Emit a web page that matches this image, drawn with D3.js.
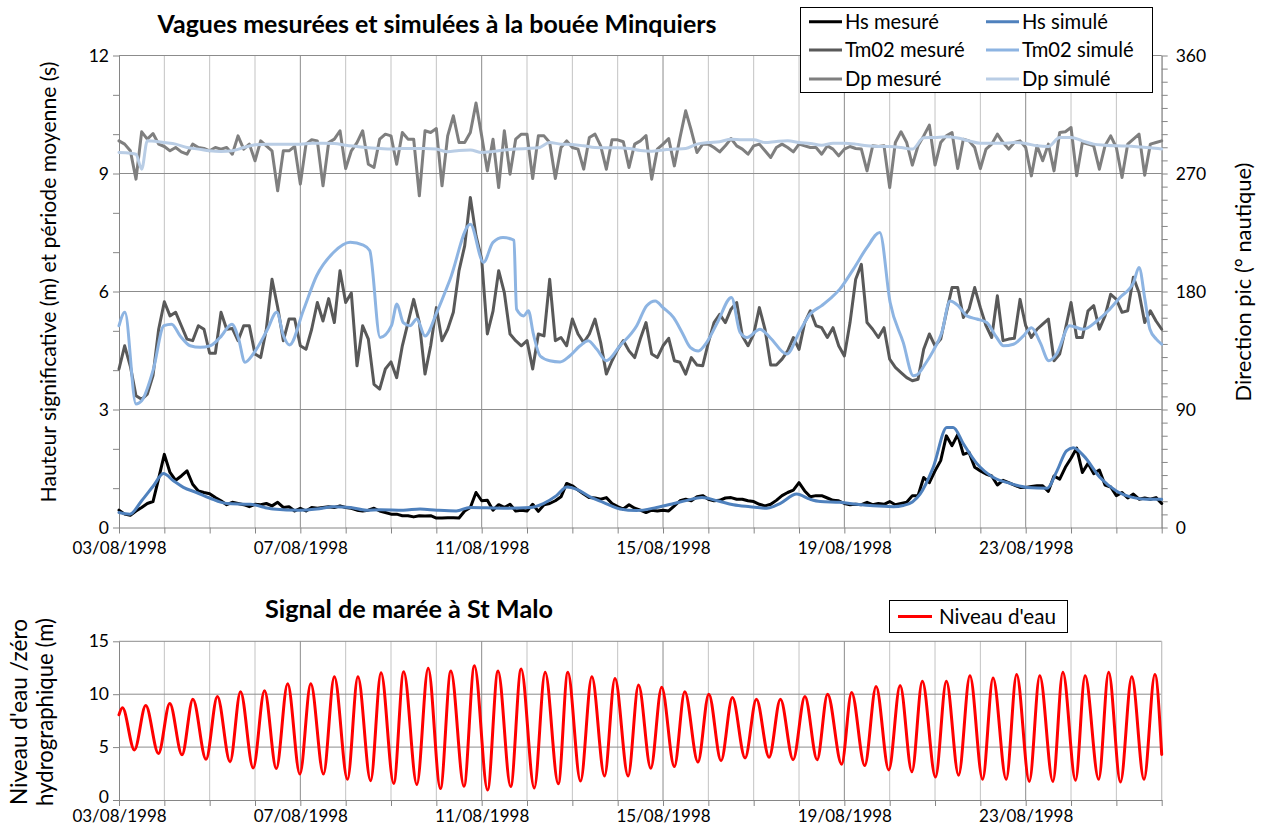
<!DOCTYPE html>
<html><head><meta charset="utf-8">
<script src="https://cdn.jsdelivr.net/npm/d3@7"></script>
<style>
body{margin:0;background:#fff;}
svg{display:block;font-family:Lato,"Open Sans",sans-serif;}
</style></head><body>
<svg id="chart" width="1269" height="827"></svg>
<script>
// ---------------- DATA ----------------
const startDay = Date.UTC(1998,7,3);
const endDay = Date.UTC(1998,7,26);
const dateLabels = ["03/08/1998","07/08/1998","11/08/1998","15/08/1998","19/08/1998","23/08/1998"];
const leftTicks = [0,3,6,9,12];
const rightTicks = [0,90,180,270,360];
const tideTicks = [0,5,10,15];
const stepHours = 3; // measured series: one value every 3 h

const hsMesure = [
0.44,0.34,0.31,0.42,0.51,0.61,0.66,1.25,1.86,1.40,
1.20,1.31,1.44,1.10,0.93,0.89,0.86,0.76,0.68,0.58,
0.64,0.61,0.58,0.53,0.59,0.58,0.61,0.55,0.64,0.51,
0.53,0.42,0.49,0.42,0.51,0.49,0.51,0.53,0.51,0.55,
0.51,0.49,0.44,0.42,0.44,0.49,0.42,0.38,0.34,0.34,
0.30,0.30,0.27,0.30,0.29,0.30,0.24,0.24,0.25,0.25,
0.24,0.42,0.51,0.89,0.68,0.69,0.44,0.58,0.51,0.59,
0.42,0.44,0.42,0.59,0.41,0.58,0.61,0.68,0.78,1.12,
1.06,0.95,0.85,0.76,0.75,0.72,0.76,0.61,0.53,0.47,
0.58,0.49,0.44,0.38,0.44,0.42,0.44,0.42,0.55,0.68,
0.72,0.68,0.78,0.81,0.72,0.68,0.69,0.75,0.76,0.72,
0.72,0.68,0.66,0.59,0.55,0.59,0.69,0.81,0.89,0.95,
1.14,0.93,0.78,0.81,0.81,0.75,0.69,0.68,0.61,0.58,
0.59,0.58,0.64,0.58,0.61,0.59,0.66,0.58,0.61,0.64,
0.81,0.81,1.27,1.14,1.44,1.70,2.33,2.08,2.36,1.86,
1.91,1.53,1.44,1.36,1.31,1.08,1.20,1.14,1.08,1.02,
1.02,1.04,1.06,1.06,0.92,1.31,1.23,1.53,1.76,2.02,
1.40,1.63,1.37,1.46,1.08,1.03,0.81,0.89,0.75,0.85,
0.72,0.75,0.72,0.76,0.61];

const tm02Mesure = [
4.03,4.62,4.10,3.35,3.26,3.39,3.86,5.04,5.74,5.38,
5.47,5.13,4.79,4.75,5.13,5.04,4.43,4.43,5.47,5.04,
5.06,4.75,5.13,5.13,4.41,4.32,5.04,6.31,5.60,4.75,
5.30,5.30,4.62,4.53,5.04,5.72,5.25,5.82,5.21,6.53,
5.72,5.96,4.11,5.13,4.79,3.64,3.52,4.03,4.21,3.81,
4.62,5.21,5.80,5.21,3.90,4.62,5.59,4.75,5.04,5.47,
6.53,7.16,8.39,7.42,6.82,4.92,5.50,6.53,5.97,4.92,
4.75,4.62,4.75,4.03,4.92,4.87,6.31,4.75,4.83,4.62,
5.30,4.92,4.70,4.92,5.30,4.70,3.90,4.24,4.53,4.75,
4.49,4.32,4.80,5.21,4.41,4.32,4.62,4.81,4.24,4.20,
3.90,4.32,4.13,4.11,4.70,5.21,5.42,5.21,5.55,5.72,
4.87,4.62,4.92,5.59,5.04,4.13,4.13,4.28,4.49,4.83,
4.53,5.21,5.51,5.13,5.08,4.83,5.08,4.62,4.36,5.21,
6.31,6.69,5.21,5.04,4.83,5.08,4.28,4.07,3.94,3.81,
3.73,3.77,4.53,4.92,4.62,4.79,5.47,6.10,6.10,5.34,
5.55,6.10,5.59,5.13,4.83,5.89,4.75,4.79,4.81,5.80,
5.13,4.83,5.04,5.17,5.30,4.24,4.41,5.04,5.72,4.83,
4.83,5.51,5.64,5.04,5.38,5.93,5.80,5.47,5.51,6.36,
5.97,5.21,5.51,5.25,5.04];

const dpMesure = [
294.9,292.4,287.3,265.7,301.8,296.2,300.5,292.4,290.6,287.3,
289.8,286.5,284.7,292.4,289.8,289.1,287.3,289.8,288.6,289.8,
284.7,298.7,288.6,292.4,279.7,294.9,291.1,287.3,256.8,287.3,
287.3,290.6,261.9,292.4,295.7,294.9,260.6,293.6,296.2,302.6,
273.8,287.3,293.6,302.6,277.1,274.6,296.2,300.0,298.7,277.1,
301.3,296.2,296.2,253.0,302.6,301.3,304.3,260.6,298.7,314.0,
293.6,293.6,301.3,323.7,298.7,272.0,296.2,259.3,302.6,269.5,
296.2,300.0,300.0,266.2,298.7,298.7,293.6,266.2,289.8,294.9,
289.8,288.6,273.3,297.5,300.0,291.1,273.3,295.7,295.7,294.2,
274.6,292.4,294.9,299.0,265.7,288.6,292.4,296.7,275.8,297.5,
317.8,302.6,286.0,292.4,292.4,289.8,286.5,291.1,296.7,291.1,
288.6,284.7,291.1,292.4,287.3,282.2,289.8,292.4,289.8,286.5,
292.4,291.1,289.8,289.8,284.7,291.1,288.6,283.5,288.6,290.6,
289.1,288.6,272.0,291.1,290.6,291.1,259.3,293.6,301.8,293.6,
276.4,291.1,298.7,306.9,276.4,293.6,298.7,301.3,273.8,296.2,
294.9,289.8,273.8,288.6,292.4,300.0,293.6,288.6,293.6,294.9,
289.8,268.2,291.1,279.7,292.4,272.0,301.3,301.8,305.1,268.2,
293.6,292.4,291.1,273.3,291.1,298.7,289.8,266.9,292.4,296.2,
300.0,268.7,292.4,293.6,294.9];

// simulated series: [day offset from 03/08 00:00, value]
const hsSimule = [
[0,0.38],[0.24,0.34],[0.5,0.68],[0.76,1.06],[0.98,1.37],[1.2,1.19],[1.42,1.02],[1.71,0.89],[2.0,0.75],[2.38,0.61],
[2.89,0.59],[3.4,0.47],[3.99,0.44],[4.36,0.47],[4.73,0.53],[5.1,0.51],[5.46,0.44],[5.76,0.45],[6.27,0.44],[6.64,0.47],
[7.01,0.44],[7.44,0.42],[7.74,0.51],[8.48,0.49],[9.07,0.51],[9.36,0.61],[9.65,0.81],[9.88,1.03],[10.1,0.97],[10.39,0.78],
[10.68,0.64],[11.05,0.47],[11.42,0.43],[11.86,0.51],[12.24,0.61],[12.53,0.69],[12.86,0.76],[13.2,0.68],[13.55,0.58],[13.92,0.53],
[14.29,0.49],[14.58,0.61],[14.95,0.85],[15.24,0.72],[15.47,0.66],[15.91,0.64],[16.27,0.59],[16.64,0.55],[17.08,0.53],[17.3,0.56],
[17.5,0.65],[17.67,0.85],[17.96,1.53],[18.26,2.54],[18.4,2.54],[18.63,2.12],[18.92,1.63],[19.29,1.27],[19.66,1.12],[20.03,1.02],
[20.47,1.0],[20.69,1.44],[20.9,1.95],[21.05,2.03],[21.28,1.82],[21.64,1.27],[22.0,0.93],[22.38,0.76],[22.67,0.72],[23,0.72]];

const tm02Simule = [
[0,5.13],[0.13,5.47],[0.375,3.14],[0.5,3.22],[0.76,4.03],[0.99,5.13],[1.16,5.17],[1.35,4.87],[1.57,4.62],[1.79,4.58],
[2.01,4.62],[2.23,4.83],[2.49,5.17],[2.63,4.83],[2.78,4.2],[2.96,4.41],[3.26,5.0],[3.48,5.47],[3.63,4.87],[3.76,4.64],
[4.07,5.53],[4.36,6.4],[4.73,6.99],[5.1,7.25],[5.39,7.18],[5.53,7.04],[5.76,4.83],[6.01,5.13],[6.13,5.68],[6.27,5.21],
[6.42,5.13],[6.57,5.3],[6.75,4.87],[7.01,5.47],[7.3,6.3],[7.75,7.71],[8.04,6.74],[8.25,7.25],[8.47,7.37],[8.66,7.33],
[8.71,7.3],[8.77,5.55],[8.93,5.38],[9.03,5.51],[9.14,4.92],[9.29,4.36],[9.5,4.24],[9.73,4.21],[9.94,4.36],[10.17,4.62],
[10.35,4.75],[10.54,4.53],[10.75,4.24],[11.05,4.62],[11.42,5.13],[11.64,5.64],[11.83,5.76],[12,5.59],[12.23,5.34],[12.42,4.96],
[12.6,4.58],[12.78,4.49],[12.96,4.7],[13.2,5.21],[13.51,5.85],[13.7,4.96],[13.85,4.83],[14.14,5.04],[14.36,4.83],[14.73,4.41],
[15.02,5.0],[15.24,5.42],[15.5,5.64],[15.72,5.85],[15.9,6.06],[16.2,6.57],[16.5,7.12],[16.78,7.5],[17.01,5.72],[17.3,4.7],
[17.52,3.86],[17.6,3.88],[17.78,4.15],[17.96,4.49],[18.15,4.96],[18.33,5.76],[18.51,5.64],[18.7,5.38],[18.92,5.3],[19.14,5.21],
[19.36,4.83],[19.51,4.62],[19.73,4.66],[19.95,4.87],[20.13,5.08],[20.32,4.7],[20.51,4.24],[20.68,4.41],[20.97,5.13],[21.27,5.04],
[21.57,5.25],[21.82,5.51],[22.08,5.85],[22.38,6.23],[22.5,6.61],[22.63,5.8],[22.74,5.04],[22.88,4.79],[23,4.66]];

const dpSimule = [
[0,286.0],[0.25,285.5],[0.375,284.7],[0.5,273.3],[0.625,294.9],[0.875,294.2],[1,293.6],[1.25,292.4],[1.5,289.8],[1.75,288.6],
[2,287.3],[2.25,286.8],[2.5,287.3],[2.75,289.8],[3,291.9],[3.25,292.4],[3.5,292.4],[3.75,292.4],[4,292.4],[4.25,293.1],
[4.5,293.1],[4.75,292.9],[5,291.6],[5.25,290.6],[5.5,289.6],[5.75,289.1],[6,288.6],[6.25,289.1],[6.5,289.1],[6.75,289.1],
[7,288.6],[7.25,286.5],[7.5,287.6],[7.75,288.0],[8,286.0],[8.25,286.8],[8.5,288.0],[8.75,288.6],[9,289.1],[9.25,289.6],
[9.5,293.6],[9.75,292.4],[10,292.1],[10.25,291.1],[10.5,289.8],[10.75,289.6],[11,289.6],[11.25,289.1],[11.5,287.6],[11.75,287.0],
[12,288.0],[12.25,288.6],[12.5,289.1],[12.75,292.4],[13,293.6],[13.25,294.2],[13.5,296.2],[13.75,295.7],[14,295.7],[14.25,293.6],
[14.5,294.4],[14.75,294.9],[15,293.6],[15.25,292.9],[15.5,291.6],[15.75,293.1],[16,293.1],[16.25,292.4],[16.5,291.1],[16.75,290.6],
[17,290.6],[17.25,289.8],[17.5,288.6],[17.75,297.2],[18,297.5],[18.25,298.0],[18.5,297.0],[18.75,294.9],[19,293.1],[19.25,293.1],
[19.5,293.1],[19.75,293.6],[20,292.9],[20.25,291.1],[20.5,290.6],[20.75,297.5],[21,297.5],[21.25,294.9],[21.5,292.4],[21.75,291.6],
[22,291.1],[22.25,290.9],[22.5,290.3],[22.75,289.6],[23,288.6]];

// tide at St Malo: successive high / low waters [day offset, level m]
const niveauEau = [
[0,8.05],[0.076,8.71],[0.34,4.73],[0.59,8.93],[0.87,4.4],[1.12,9.13],[1.39,4.27],[1.63,9.52],[1.92,3.85],[2.17,9.78],
[2.45,3.62],[2.68,10.24],[2.96,3.03],[3.21,10.33],[3.47,2.97],[3.72,10.99],[3.99,2.45],[4.23,10.99],[4.51,2.45],[4.75,11.64],
[5.04,1.96],[5.27,11.64],[5.55,1.83],[5.78,12.03],[6.06,1.57],[6.28,12.13],[6.57,1.47],[6.82,12.46],[7.09,1.08],[7.32,12.2],
[7.61,1.3],[7.84,12.69],[8.13,0.95],[8.36,12.2],[8.64,1.27],[8.87,12.39],[9.16,1.14],[9.4,12.07],[9.69,1.53],[9.9,12.07],
[10.18,1.79],[10.43,11.64],[10.71,2.28],[10.94,11.48],[11.23,2.28],[11.46,10.86],[11.73,3.0],[11.97,10.66],[12.25,3.16],[12.48,10.24],
[12.77,3.59],[13.01,10.0],[13.28,3.72],[13.53,9.68],[13.81,3.98],[14.06,9.52],[14.34,4.04],[14.59,9.52],[14.87,3.81],[15.13,9.78],
[15.4,3.81],[15.63,10.0],[15.94,3.39],[16.16,10.17],[16.45,3.26],[16.7,10.73],[16.98,2.84],[17.23,10.83],[17.49,2.67],[17.72,11.22],
[18.01,2.18],[18.25,11.22],[18.52,2.35],[18.77,11.74],[19.05,1.96],[19.28,11.54],[19.57,1.96],[19.8,11.87],[20.08,1.76],[20.31,11.74],
[20.6,1.76],[20.82,12.07],[21.1,1.86],[21.31,11.74],[21.61,1.96],[21.83,12.07],[22.09,1.7],[22.34,11.64],[22.61,1.96],[22.85,11.87],
[23.0,4.3]];

const legendTop = [
  {name:"Hs mesuré", color:"#000000"},
  {name:"Hs simulé", color:"#4F81BD"},
  {name:"Tm02 mesuré", color:"#595959"},
  {name:"Tm02 simulé", color:"#8DB4E2"},
  {name:"Dp mesuré", color:"#7F7F7F"},
  {name:"Dp simulé", color:"#B9CDE5"}
];

// ---------------- LAYOUT ----------------
const svg = d3.select("#chart");
const X0 = 119, X1 = 1161.7;
const topP = {y0: 55.5, y1: 527.5, labelDy: "1.05em", yDy: "0.32em"};
const botP = {y0: 641.3, y1: 800, labelDy: "0.74em", yDy: "0.12em"};
const DAY = 86400000;
const x = d3.scaleUtc().domain([new Date(startDay), new Date(endDay)]).range([X0, X1]);
const yL = d3.scaleLinear().domain([0,12]).range([topP.y1, topP.y0]);
const yR = d3.scaleLinear().domain([0,360]).range([topP.y1, topP.y0]);
const yT = d3.scaleLinear().domain([0,15]).range([botP.y1, botP.y0]);
const dayDate = d => new Date(startDay + d*DAY);
const idxDate = i => new Date(startDay + i*stepHours*3600000);
const days = d3.utcDay.range(new Date(startDay), new Date(endDay + 1));
const labelSet = new Set(dateLabels);
const fmt = d3.utcFormat("%d/%m/%Y");

const GRID = "#c3c3c3", GRIDM = "#8c8c8c", AX = "#868686";
const TICKFONT = 17;

function fit(sel, w){
  const n = sel.node(); const cur = n.getComputedTextLength();
  const fs = parseFloat(sel.attr("font-size"));
  sel.attr("font-size", (fs*w/cur).toFixed(2));
}

function panel(yScale, yTicksMajor, yMinor, p){
  const g = svg.append("g");
  g.selectAll(".vg").data(days.filter(d => +d > startDay)).enter().append("line")
    .attr("x1", d => x(d)).attr("x2", d => x(d))
    .attr("y1", p.y0).attr("y2", p.y1)
    .attr("stroke", d => labelSet.has(fmt(d)) ? GRIDM : GRID).attr("stroke-width", 1);
  g.selectAll(".hg").data(yTicksMajor.filter(v => v > 0)).enter().append("line")
    .attr("x1", X0).attr("x2", X1).attr("y1", d => yScale(d)).attr("y2", d => yScale(d))
    .attr("stroke", GRIDM).attr("stroke-width", 1);
  const xa = g.append("g").attr("transform", `translate(0,${p.y1})`)
    .call(d3.axisBottom(x).tickValues(days).tickSize(6).tickSizeOuter(0)
      .tickFormat(d => labelSet.has(fmt(d)) ? fmt(d) : ""));
  xa.select(".domain").attr("stroke", AX);
  xa.selectAll(".tick line").attr("stroke", AX);
  xa.selectAll("text").attr("font-size", TICKFONT).attr("fill", "#000").attr("font-family", "Lato").attr("dy", p.labelDy);
  const ya = g.append("g").attr("transform", `translate(${X0},0)`)
    .call(d3.axisLeft(yScale).tickValues(yMinor).tickSize(6).tickSizeOuter(0)
      .tickFormat(v => yTicksMajor.includes(v) ? v : ""));
  ya.select(".domain").attr("stroke", AX);
  ya.selectAll(".tick line").attr("stroke", AX);
  ya.selectAll("text").attr("font-size", TICKFONT+0.5).attr("fill", "#000").attr("font-family", "Lato").attr("x", -10)
    .attr("dy", d => d === 0 ? p.yDy : "0.32em");
  return g;
}

panel(yL, leftTicks, d3.range(0, 13, 1), topP);
const ra = svg.append("g").attr("transform", `translate(${X1},0)`)
  .call(d3.axisRight(yR).tickValues(d3.range(0, 361, 10)).tickSize(6).tickSizeOuter(0)
    .tickFormat(v => rightTicks.includes(v) ? v : ""));
ra.select(".domain").attr("stroke", AX);
ra.selectAll(".tick line").attr("stroke", AX);
ra.selectAll("text").attr("font-size", TICKFONT+0.5).attr("fill", "#000").attr("font-family", "Lato").attr("x", 14);

panel(yT, tideTicks, tideTicks, botP);
svg.append("line").attr("x1", X1).attr("x2", X1).attr("y1", botP.y0).attr("y2", botP.y1).attr("stroke", GRID);

const lineIdx = (ys) => d3.line().x((d,i) => x(idxDate(i))).y(d => ys(d));
const lineKnots = (ys) => d3.line().x(d => x(dayDate(d[0]))).y(d => ys(d[1])).curve(d3.curveMonotoneX);
const plot = svg.append("g").attr("fill", "none").attr("stroke-width", 3).attr("stroke-linejoin", "round").attr("stroke-linecap", "round");
plot.append("path").attr("d", lineIdx(yL)(hsMesure)).attr("stroke", legendTop[0].color);
plot.append("path").attr("d", lineKnots(yL)(hsSimule)).attr("stroke", legendTop[1].color);
plot.append("path").attr("d", lineIdx(yL)(tm02Mesure)).attr("stroke", legendTop[2].color);
plot.append("path").attr("d", lineKnots(yL)(tm02Simule)).attr("stroke", legendTop[3].color);
plot.append("path").attr("d", lineIdx(yR)(dpMesure)).attr("stroke", legendTop[4].color);
plot.append("path").attr("d", lineKnots(yR)(dpSimule)).attr("stroke", legendTop[5].color);
plot.append("path").attr("d", lineKnots(yT)(niveauEau)).attr("stroke", "#FF0000");

const t1 = svg.append("text").attr("x", 437).attr("y", 33).attr("text-anchor", "middle")
  .attr("font-weight", "bold").attr("font-size", 19).text("Vagues mesurées et simulées à la bouée Minquiers");
fit(t1, 559);
const t2 = svg.append("text").attr("x", 409).attr("y", 618).attr("text-anchor", "middle")
  .attr("font-weight", "bold").attr("font-size", 19).text("Signal de marée à St Malo");
fit(t2, 288);
const ty1 = svg.append("text").attr("transform", "translate(56,282) rotate(-90)").attr("text-anchor", "middle")
  .attr("font-size", 18).text("Hauteur significative (m) et période moyenne (s)");
fit(ty1, 441);
const ty2 = svg.append("text").attr("transform", "translate(1251,282) rotate(-90)").attr("text-anchor", "middle")
  .attr("font-size", 18).text("Direction pic (° nautique)");
fit(ty2, 239);
const tb1 = svg.append("text").attr("transform", "translate(27,712) rotate(-90)").attr("text-anchor", "middle")
  .attr("font-size", 18).text("Niveau d'eau /zéro");
fit(tb1, 186);
const tb2 = svg.append("text").attr("transform", "translate(53,712) rotate(-90)").attr("text-anchor", "middle")
  .attr("font-size", 18).text("hydrographique (m)");
fit(tb2, 188);

const lg = svg.append("g");
lg.append("rect").attr("x", 800.5).attr("y", 7.5).attr("width", 352).attr("height", 85)
  .attr("fill", "#fff").attr("stroke", "#000").attr("stroke-width", 1);
const colX = [809, 986], rowY = [21.7, 50, 79];
legendTop.forEach((s, k) => {
  const cx = colX[k % 2], cy = rowY[Math.floor(k / 2)];
  lg.append("line").attr("x1", cx).attr("x2", cx + 33).attr("y1", cy).attr("y2", cy)
    .attr("stroke", s.color).attr("stroke-width", 3);
  lg.append("text").attr("x", cx + 36).attr("y", cy).attr("dy", "0.36em")
    .attr("font-size", 20.2).text(s.name);
});
const lb = svg.append("g");
lb.append("rect").attr("x", 889.5).attr("y", 600.5).attr("width", 178).attr("height", 32)
  .attr("fill", "#fff").attr("stroke", "#000").attr("stroke-width", 1);
lb.append("line").attr("x1", 898).attr("x2", 932).attr("y1", 616.5).attr("y2", 616.5).attr("stroke", "#FF0000").attr("stroke-width", 3);
const lbt = lb.append("text").attr("x", 939).attr("y", 616.5).attr("dy", "0.36em").attr("font-size", 19.5).text("Niveau d'eau");
fit(lbt, 117);
</script>
</body></html>
